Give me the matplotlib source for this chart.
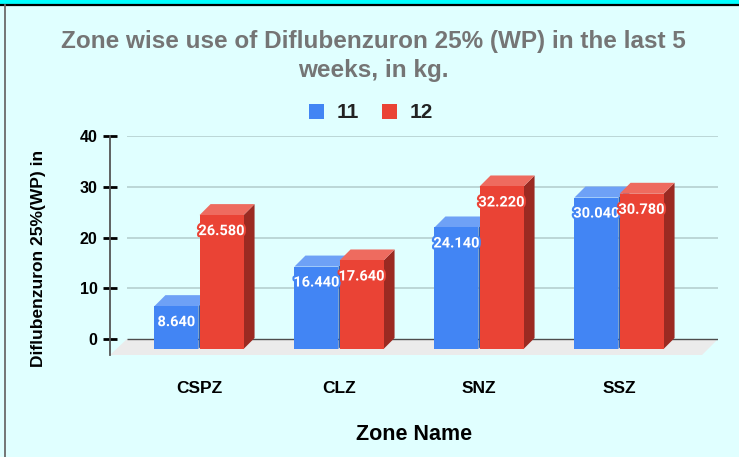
import matplotlib
matplotlib.use("Agg")
import matplotlib.pyplot as plt
import matplotlib.patheffects as pe
from matplotlib.patches import Polygon, Rectangle, Patch
from matplotlib.lines import Line2D
from matplotlib.transforms import IdentityTransform

# ── Data ─────────────────────────────────────────────────────────────────────
zones = ["CSPZ", "CLZ", "SNZ", "SSZ"]
series_names = ["11", "12"]
week_11 = [8.640, 16.440, 24.140, 30.040]
week_12 = [26.580, 17.640, 32.220, 30.780]
y_ticks = [0, 10, 20, 30, 40]

title = "Zone wise use of Diflubenzuron 25% (WP) in the last 5\nweeks, in kg."
y_label = "Diflubenzuron 25%(WP) in"
x_label = "Zone Name"

# ── Style ────────────────────────────────────────────────────────────────────
BG = "#e0ffff"
FRONT = ["#4285f4", "#ea4335"]
TOP = ["#6ea1f6", "#ee6b5f"]
SIDE = ["#2f5fae", "#9b2a22"]
FLOOR = "#ebebeb"
GRID = "#b9d3d3"
DEPTH = 11          # px, bar depth
FLOOR_DEPTH = 16    # px
FONT = "Liberation Sans"

W, H = 739, 457
fig = plt.figure(figsize=(W / 100, H / 100), dpi=100, facecolor=BG)

# frame decorations (cyan band on top, dark rule, grey left edge)
fig.add_artist(Rectangle((0, 1 - 4 / H), 1, 4 / H, transform=fig.transFigure,
                         color="#00ffff", lw=0))
fig.add_artist(Line2D([0, 1], [1 - 4.5 / H] * 2, transform=fig.transFigure,
                      color="black", lw=1.6))
fig.add_artist(Line2D([4.5 / W] * 2, [0, 1 - 5 / H], transform=fig.transFigure,
                      color="#6a6a6a", lw=1.3))

# axes: left spine at front of the floor, y=0 on the back plane
ax_l, ax_r, ax_t, ax_b = 110, 718, 136, 355
ax = fig.add_axes([ax_l / W, 1 - ax_b / H, (ax_r - ax_l) / W, (ax_b - ax_t) / H])
ax.set_facecolor("none")
px_per_unit = (339 - 136) / 40
ax.set_ylim(-FLOOR_DEPTH / px_per_unit, 40)
spacing = 140
ax.set_xlim(-(199 - ax_l) / spacing, (ax_r - 199) / spacing)

for s in ("top", "right", "bottom"):
    ax.spines[s].set_visible(False)
ax.spines["left"].set_color("#555555")
ax.spines["left"].set_linewidth(1.3)

ax.set_yticks(y_ticks)
ax.tick_params(axis="y", direction="inout", length=10, width=2, color="black",
               labelsize=11.5, pad=4)
for lab in ax.get_yticklabels():
    lab.set_fontweight("bold")
    lab.set_family(FONT)

ax.set_xticks(range(len(zones)))
ax.set_xticklabels(zones, fontsize=12.5, fontweight="bold", family=FONT)
ax.tick_params(axis="x", length=0, pad=19)
ax.set_xlabel(x_label, fontsize=15.5, fontweight="bold", family=FONT, labelpad=20)
ax.set_ylabel(y_label, fontsize=12.5, fontweight="bold", family=FONT)
ax.yaxis.set_label_coords(-(ax_l - 46) / (ax_r - ax_l),
                          (ax_b - 258) / (ax_b - ax_t))

ident = IdentityTransform()


def to_px(x, y):
    return ax.transData.transform((x, y))


# floor parallelogram
fx0 = ax.transAxes.transform((0, 0))[0]
fx1 = ax.transAxes.transform((1, 0))[0]
y_back = to_px(0, 0)[1]
y_front = y_back - FLOOR_DEPTH
ax.add_patch(Polygon([(fx0, y_front), (fx0 + 17, y_back), (fx1, y_back),
                      (fx1 - 16, y_front)], closed=True, transform=ident,
                     facecolor=FLOOR, edgecolor="none", zorder=0.5, clip_on=False))

# gridlines on the back wall
grid_x0 = 17 / (ax_r - ax_l)
ax.hlines(y_ticks[1:], grid_x0, 1, transform=ax.get_yaxis_transform(),
          colors=GRID, lw=1.3, zorder=0.6)
ax.hlines([0], grid_x0, 1, transform=ax.get_yaxis_transform(),
          colors="#4d4d4d", lw=1.0, zorder=0.7)

# ── 3D-looking bars ──────────────────────────────────────────────────────────
bar_w = 44 / spacing
offsets = [-bar_w - 0.004, 0.004]
z = 1
for i in range(len(zones)):
    for s, vals in enumerate([week_11, week_12]):
        v = vals[i]
        x0 = i + offsets[s]
        x1 = x0 + bar_w
        (px0, py_top), (px1, _) = to_px(x0, v), to_px(x1, v)
        ft = py_top - DEPTH
        fb = y_back - DEPTH + 1
        front = [(px0, fb), (px0, ft), (px1, ft), (px1, fb)]
        top = [(px0, ft), (px0 + DEPTH, py_top), (px1 + DEPTH, py_top), (px1, ft)]
        side = [(px1, ft), (px1 + DEPTH, py_top), (px1 + DEPTH, fb + DEPTH), (px1, fb)]
        for poly, col in ((side, SIDE[s]), (top, TOP[s]), (front, FRONT[s])):
            ax.add_patch(Polygon(poly, closed=True, transform=ident, facecolor=col,
                                 edgecolor="none", zorder=z, clip_on=False))
        z += 0.01
        ax.annotate(f"{v:.3f}", xy=((x0 + x1) / 2, v), xytext=(0, -27 * 0.72),
                    textcoords="offset points", ha="center", va="center",
                    color="white", fontsize=10.5, fontweight="bold", family="Roboto",
                    zorder=10, annotation_clip=False,
                    path_effects=[pe.withStroke(linewidth=3, foreground=FRONT[s])])

# ── Title and legend ─────────────────────────────────────────────────────────
fig.text(373 / W, 1 - 56 / H, title, ha="center", va="center", fontsize=17.5,
         fontweight="bold", color="#757575", family=FONT, linespacing=1.32)

handles = [Patch(facecolor=c, edgecolor="none") for c in FRONT]
leg = fig.legend(handles, series_names, loc="center", ncol=2, frameon=False,
                 bbox_to_anchor=(371 / W, 1 - 113 / H), handlelength=0.68,
                 handleheight=0.75, handletextpad=0.6, columnspacing=1.15,
                 prop={"family": FONT, "weight": "bold", "size": 15})
for t in leg.get_texts():
    t.set_color("#222222")

fig.savefig("out.png", dpi=100, facecolor=BG)
